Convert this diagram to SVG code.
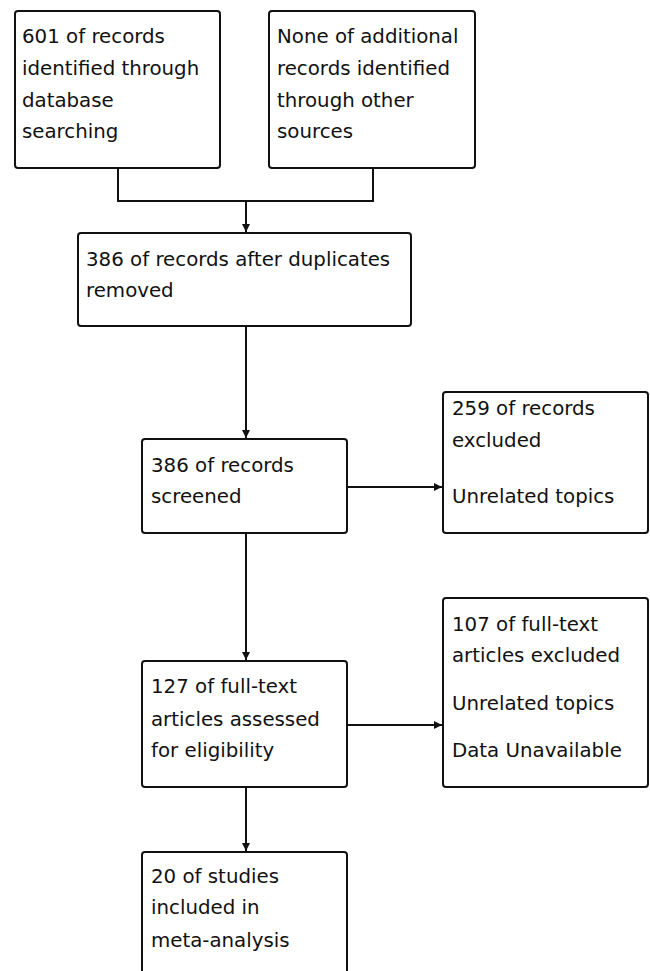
<svg xmlns="http://www.w3.org/2000/svg" width="650" height="971" viewBox="0 0 650 971">
<defs>
<style>
.box{fill:#fff;stroke:#111;stroke-width:2}
.t{font-family:"DejaVu Sans",sans-serif;font-size:19.8px;fill:#111}
.c{fill:none;stroke:#111;stroke-width:2}
</style>
<marker id="ah" viewBox="0 0 10 10" refX="10" refY="5" markerWidth="4" markerHeight="4" orient="auto" markerUnits="strokeWidth">
<path d="M0,0 L10,5 L0,10 z" fill="#111"/>
</marker>
</defs>
<rect width="650" height="971" fill="#fff"/>
<g id="connectors">
<path class="c" d="M118,168 V201 H373 V168"/>
<path class="c" d="M246,201 V232" marker-end="url(#ah)"/>
<path class="c" d="M246,326 V438" marker-end="url(#ah)"/>
<path class="c" d="M347,487 H442" marker-end="url(#ah)"/>
<path class="c" d="M246,533 V660" marker-end="url(#ah)"/>
<path class="c" d="M347,725 H442" marker-end="url(#ah)"/>
<path class="c" d="M246,787 V851" marker-end="url(#ah)"/>
</g>
<g id="n1">
<rect class="box" x="15" y="11" width="205" height="157" rx="3"/>
<text class="t" x="22"><tspan y="43" x="22">601 of records</tspan><tspan y="75" x="22">identified through</tspan><tspan y="107" x="22">database</tspan><tspan y="138" x="22">searching</tspan></text>
</g>
<g id="n2">
<rect class="box" x="269" y="11" width="206" height="157" rx="3"/>
<text class="t"><tspan y="43" x="277">None of additional</tspan><tspan y="75" x="277">records identified</tspan><tspan y="107" x="277">through other</tspan><tspan y="138" x="277">sources</tspan></text>
</g>
<g id="n3">
<rect class="box" x="78" y="233" width="333" height="93" rx="3"/>
<text class="t"><tspan y="266" x="86">386 of records after duplicates</tspan><tspan y="297" x="86">removed</tspan></text>
</g>
<g id="n4">
<rect class="box" x="142" y="439" width="205" height="94" rx="3"/>
<text class="t"><tspan y="472" x="151">386 of records</tspan><tspan y="503" x="151">screened</tspan></text>
</g>
<g id="n5">
<rect class="box" x="443" y="392" width="205" height="141" rx="3"/>
<text class="t"><tspan y="415" x="452">259 of records</tspan><tspan y="447" x="452">excluded</tspan><tspan y="503" x="452">Unrelated topics</tspan></text>
</g>
<g id="n6">
<rect class="box" x="142" y="661" width="205" height="126" rx="3"/>
<text class="t"><tspan y="693" x="151">127 of full-text</tspan><tspan y="726" x="151">articles assessed</tspan><tspan y="757" x="151">for eligibility</tspan></text>
</g>
<g id="n7">
<rect class="box" x="443" y="598" width="205" height="189" rx="3"/>
<text class="t"><tspan y="631" x="452">107 of full-text</tspan><tspan y="662" x="452">articles excluded</tspan><tspan y="710" x="452">Unrelated topics</tspan><tspan y="757" x="452">Data Unavailable</tspan></text>
</g>
<g id="n8">
<rect class="box" x="142" y="852" width="205" height="140" rx="3"/>
<text class="t"><tspan y="883" x="151">20 of studies</tspan><tspan y="914" x="151">included in</tspan><tspan y="947" x="151">meta-analysis</tspan></text>
</g>
</svg>
